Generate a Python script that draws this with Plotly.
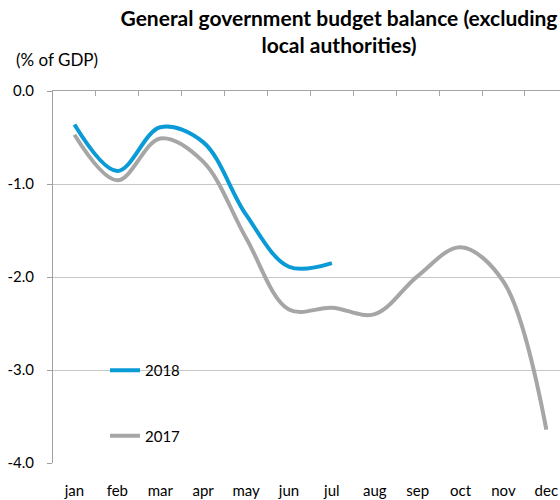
import plotly.graph_objects as go

months = ["jan", "feb", "mar", "apr", "may", "jun", "jul", "aug", "sep", "oct", "nov", "dec"]
months_2018 = months[:7]
values_2018 = [-0.36, -0.86, -0.39, -0.55, -1.33, -1.89, -1.85]
values_2017 = [-0.47, -0.96, -0.51, -0.76, -1.58, -2.35, -2.33, -2.40, -1.99, -1.68, -2.05, -3.64]

title_text = "General government budget balance (excluding<br>local authorities)"
unit_text = "(% of GDP)"
y_ticks = [0.0, -1.0, -2.0, -3.0, -4.0]
y_tick_labels = ["0.0", "-1.0", "-2.0", "-3.0", "-4.0"]

FONT = "Lato, Carlito, Calibri, sans-serif"
BLUE = "#0A9BD7"
GREY = "#A6A6A6"

W, H = 560, 500
L, R, T, B = 53, 0, 91, 37
PW, PH = W - L - R, H - T - B

fig = go.Figure()
fig.add_trace(go.Scatter(x=months, y=values_2017, name="2017", mode="lines",
                         line=dict(color=GREY, width=4, shape="spline", smoothing=1.0),
                         legendgroup="g2017", legendrank=2))
fig.add_trace(go.Scatter(x=months_2018, y=values_2018, name="2018", mode="lines",
                         line=dict(color=BLUE, width=4, shape="spline", smoothing=1.0),
                         legendgroup="g2018", legendrank=1))
# invisible helper trace so the top tick axis is drawn
fig.add_trace(go.Scatter(x=months, y=values_2017, xaxis="x2", mode="lines",
                         line=dict(width=0, color="rgba(0,0,0,0)"), showlegend=False,
                         hoverinfo="skip"))

x_end = -0.5 + PW / 42.9

fig.update_layout(
    width=W, height=H,
    margin=dict(l=L, r=R, t=T, b=B, autoexpand=False),
    paper_bgcolor="white", plot_bgcolor="white",
    font=dict(family=FONT, color="#000000"),
    title=dict(text="<b>" + title_text + "</b>", x=339 / W, xanchor="center",
               y=1 - 26 / H, yanchor="top", font=dict(size=21, family=FONT)),
    xaxis=dict(type="category", categoryorder="array", categoryarray=months,
               range=[-0.5, x_end], showgrid=False, zeroline=False, showline=False,
               ticks="", tickfont=dict(size=15), ticklabelstandoff=17, automargin=False),
    xaxis2=dict(type="category", categoryorder="array", categoryarray=months,
                matches="x", overlaying="x", side="top", anchor="y",
                showgrid=False, zeroline=False, showline=True, linecolor="#A6A6A6",
                linewidth=1, ticks="inside", ticklen=5, tickcolor="#A6A6A6",
                tickson="boundaries", showticklabels=False, automargin=False),
    yaxis=dict(range=[-4.0, 0.0], tickvals=y_ticks, ticktext=y_tick_labels,
               showgrid=True, gridcolor="#C6C6C6", gridwidth=1,
               zeroline=False, showline=True, linecolor="#A0A0A0", linewidth=1,
               ticks="outside", ticklen=5, tickcolor="#A0A0A0",
               tickfont=dict(size=15), ticklabelstandoff=10, automargin=False),
    legend=dict(x=(105 - L) / PW, y=1 - (354 - T) / PH, xanchor="left", yanchor="top",
                xref="paper", yref="paper", bgcolor="rgba(0,0,0,0)",
                font=dict(size=15), tracegroupgap=43, itemwidth=30),
    showlegend=True,
    annotations=[dict(text=unit_text, xref="paper", yref="paper",
                      x=(14 - L) / PW, y=1 + (T - 59) / PH, xanchor="left",
                      yanchor="middle", showarrow=False, font=dict(size=17, family=FONT))],
)

# remove the browser's default 8px page margin so the figure sits at the window origin
fig.write_html("out.html", config={"displayModeBar": False},
               post_script="document.body.style.margin='0';document.body.style.overflow='hidden';")
